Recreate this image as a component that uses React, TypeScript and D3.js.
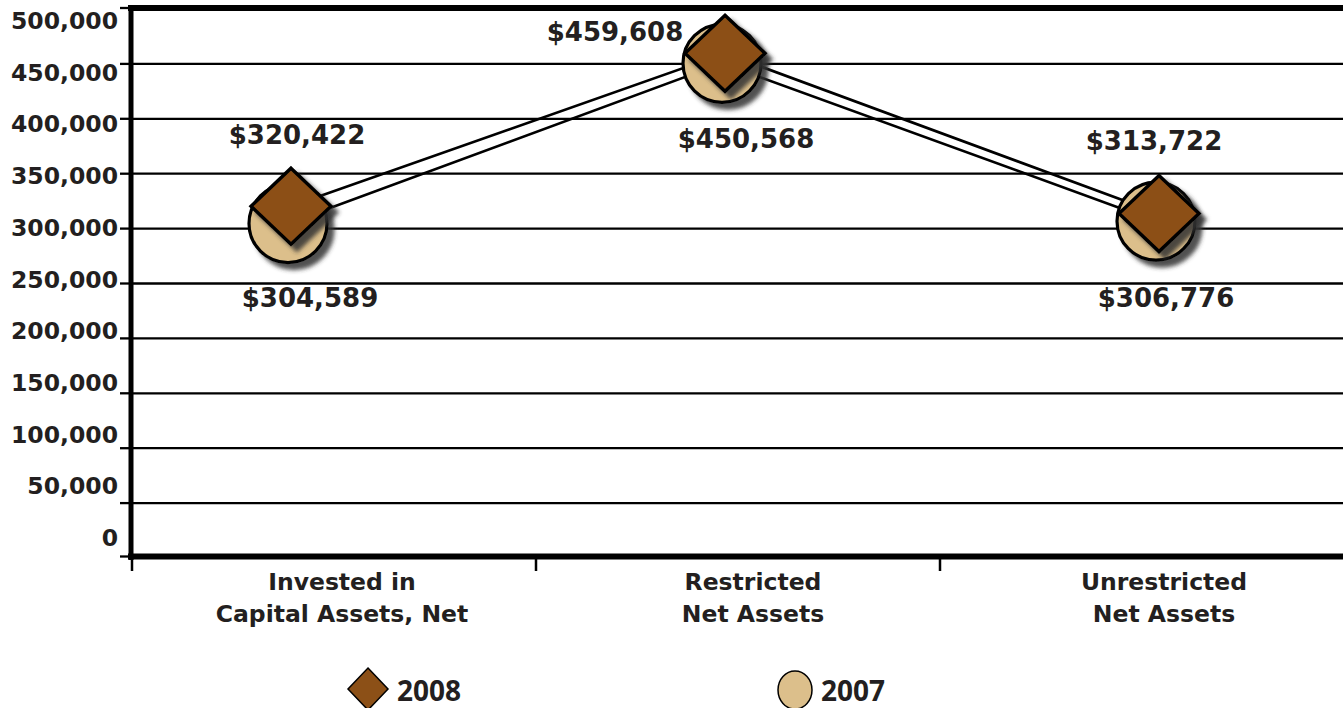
import React from "react";
import * as d3 from "d3";

const categories = ["Invested in Capital Assets, Net", "Restricted Net Assets", "Unrestricted Net Assets"];
const categoryLines = [["Invested in", "Capital Assets, Net"], ["Restricted", "Net Assets"], ["Unrestricted", "Net Assets"]];
const values2008 = [320422, 459608, 313722];
const values2007 = [304589, 450568, 306776];
const yTicks = [0, 50000, 100000, 150000, 200000, 250000, 300000, 350000, 400000, 450000, 500000];
const seriesNames = ["2008", "2007"];

// label placement offsets (style, not data)
const off2008 = [[6, -71], [-110, -21], [-5, -73]];
const off2007 = [[22, 74], [24, 76], [10, 77]];

const W = 1343, H = 708;
const TXT = "#231f20";
const BROWN = "#8c5017";
const TAN = "#dcbf8b";
const AX = "DejaVu Sans, Verdana, sans-serif";

export default function App() {
  const y = d3.scaleLinear().domain([0, 500000]).range([558, 9]);
  const yLab = d3.scaleLinear().domain([0, 500000]).range([538, 21]);
  const xPt = d3.scalePoint<string>().domain(categories).range([289, 1157]);
  const xBand = d3.scaleBand<string>().domain(categories).range([132, 1344]);
  const xLab = d3.scalePoint<string>().domain(categories).range([342, 1164]);
  const fmtAxis = d3.format(",");
  const fmtVal = (v: number) => "$" + d3.format(",")(v);
  const line = d3.line<[number, number]>().x(d => d[0]).y(d => d[1]);

  const p08 = categories.map((c, i) => [xPt(c)! + 2, y(values2008[i])] as [number, number]);
  const p07 = categories.map((c, i) => [xPt(c)! - 1, y(values2007[i])] as [number, number]);

  const dpath = (cx: number, cy: number, rx: number, ry: number) =>
    `M${cx},${cy - ry}L${cx + rx},${cy}L${cx},${cy + ry}L${cx - rx},${cy}Z`;

  return (
    <svg width={W} height={H} style={{ position: "absolute", left: 0, top: 0, background: "#fff" }}>
      <defs>
        <filter id="sh" x="-30%" y="-30%" width="170%" height="170%">
          <feDropShadow dx="6" dy="6" stdDeviation="2" floodColor="#333" floodOpacity="0.85" />
        </filter>
      </defs>
      {/* gridlines */}
      {yTicks.filter(t => t > 0 && t < 500000).map(t => (
        <line key={t} x1={131} x2={W} y1={y(t)} y2={y(t)} stroke="#000" strokeWidth={2.3} />
      ))}
      {/* y ticks */}
      {yTicks.map(t => {
        const yy = t === 0 ? y(t) - 1.5 : t === 500000 ? y(t) - 1 : y(t);
        return <line key={"t" + t} x1={120} x2={131} y1={yy} y2={yy} stroke="#000" strokeWidth={2.3} />;
      })}
      {/* y labels */}
      {yTicks.map(t => (
        <text key={"l" + t} x={118} y={yLab(t)} textAnchor="end" dominantBaseline="central"
          fontFamily={AX} fontWeight="bold" fontSize={23.5} fill={TXT}>{fmtAxis(t)}</text>
      ))}
      {/* top border and axes */}
      <line x1={128} x2={W} y1={8} y2={8} stroke="#000" strokeWidth={6} />
      <line x1={131} x2={131} y1={5} y2={560} stroke="#000" strokeWidth={5} />
      <line x1={128} x2={W} y1={y(0) - 1.5} y2={y(0) - 1.5} stroke="#000" strokeWidth={6} />
      {/* category ticks */}
      {categories.map(c => (
        <line key={"ct" + c} x1={xBand(c)!} x2={xBand(c)!} y1={558} y2={571} stroke="#000" strokeWidth={2.5} />
      ))}
      {/* category labels */}
      {categories.map((c, i) => (
        <text key={"cl" + c} x={xLab(c)} textAnchor="middle" fontFamily={AX} fontWeight="bold" fontSize={23.5} fill={TXT}>
          {categoryLines[i].map((ln, j) => (
            <tspan key={j} x={xLab(c)} y={590 + j * 32}>{ln}</tspan>
          ))}
        </text>
      ))}
      {/* series lines */}
      <path d={line(p07)!} fill="none" stroke="#000" strokeWidth={2.6} />
      <path d={line(p08)!} fill="none" stroke="#000" strokeWidth={2.6} />
      {/* 2007 circles */}
      {p07.map((p, i) => (
        <circle key={"c" + i} cx={p[0]} cy={p[1]} r={39} fill={TAN} stroke="#000" strokeWidth={3.2} filter="url(#sh)" />
      ))}
      {/* 2008 diamonds */}
      {p08.map((p, i) => (
        <path key={"d" + i} d={dpath(p[0], p[1], 40, 38)} fill={BROWN} stroke="#000" strokeWidth={3.4} strokeLinejoin="miter" filter="url(#sh)" />
      ))}
      {/* value labels */}
      {p08.map((p, i) => (
        <text key={"v8" + i} x={p[0] + off2008[i][0]} y={p[1] + off2008[i][1]} textAnchor="middle" dominantBaseline="central"
          fontFamily={AX} fontWeight="bold" fontSize={26} fill={TXT}>{fmtVal(values2008[i])}</text>
      ))}
      {p07.map((p, i) => (
        <text key={"v7" + i} x={p[0] + off2007[i][0]} y={p[1] + off2007[i][1]} textAnchor="middle" dominantBaseline="central"
          fontFamily={AX} fontWeight="bold" fontSize={26} fill={TXT}>{fmtVal(values2007[i])}</text>
      ))}
      {/* legend */}
      <path d={dpath(368, 689, 20, 21)} fill={BROWN} stroke="#000" strokeWidth={1.5} />
      <text x={397} y={690} dominantBaseline="central" fontFamily="Open Sans, sans-serif" fontWeight="bold" fontSize={28} fill={TXT}>{seriesNames[0]}</text>
      <ellipse cx={795} cy={690} rx={17} ry={19} fill={TAN} stroke="#000" strokeWidth={1.5} />
      <text x={821} y={690} dominantBaseline="central" fontFamily="Open Sans, sans-serif" fontWeight="bold" fontSize={28} fill={TXT}>{seriesNames[1]}</text>
    </svg>
  );
}
